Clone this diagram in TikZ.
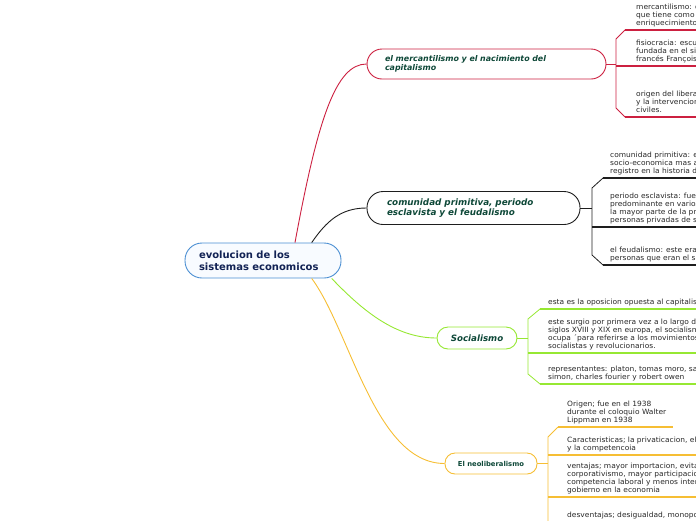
\documentclass[tikz,border=0pt]{standalone}
\usepackage{fontspec}
\setmainfont{DejaVu Sans}
\newfontfamily\leaffont[FakeStretch=1.04]{DejaVu Sans}
\definecolor{cRed}{RGB}{204,32,64}
\definecolor{cBlk}{RGB}{30,30,30}
\definecolor{cGrn}{RGB}{150,232,50}
\definecolor{cOrg}{RGB}{246,190,52}
\definecolor{cBlue}{RGB}{74,142,210}
\definecolor{rootFill}{RGB}{248,251,255}
\definecolor{txtGrn}{RGB}{14,72,56}
\definecolor{txtNavy}{RGB}{18,34,84}
\definecolor{leafTxt}{RGB}{40,40,40}
\newcommand{\leaftxt}[1]{\parbox[t]{320pt}{\raggedright\leaffont\fontsize{7.2}{8.1}\selectfont #1}}
\tikzset{
  mbox/.style={draw, line width=0.9pt, fill=white, inner ysep=0pt, align=left, text=txtGrn},
  conn/.style={line width=0.9pt},
  uline/.style={line width=1.7pt},
  brk/.style={line width=0.8pt},
  leaf/.style={anchor=base west, inner sep=0pt, text=leafTxt}
}
\begin{document}
\begin{tikzpicture}[x=1pt,y=-1pt]
\useasboundingbox (0,0) rectangle (696,520);
\clip (0,0) rectangle (696,520);

% root
\node[mbox, draw=cBlue, fill=rootFill, text=txtNavy, rounded corners=17pt,
      inner xsep=14pt, text width=128pt, minimum height=35pt,
      font=\fontsize{10}{12.3}\selectfont\bfseries] (root) at (263,260.5)
      {evolucion de los\\sistemas economicos};

% branch boxes
\node[mbox, draw=cRed, rounded corners=15pt, inner xsep=18pt, text width=203pt,
      minimum height=30pt, font=\fontsize{7.9}{9.3}\selectfont\bfseries\itshape] (b1) at (486.5,64)
      {el mercantilismo y el nacimiento del\\capitalismo};
\node[mbox, draw=cBlk, rounded corners=16pt, inner xsep=20pt, text width=173pt,
      minimum height=33pt, font=\fontsize{8.8}{10.7}\selectfont\bfseries\itshape] (b2) at (473.5,208)
      {comunidad primitiva, periodo\\esclavista y el feudalismo};
\node[mbox, draw=cGrn, rounded corners=11pt, minimum width=80pt, minimum height=22pt,
      align=center, font=\fontsize{8.7}{10}\selectfont\bfseries\itshape] (b3) at (477,338)
      {Socialismo};
\node[mbox, draw=cOrg, rounded corners=10pt, minimum width=92pt, minimum height=21pt,
      align=center, font=\fontsize{6.8}{8}\selectfont\bfseries] (b4) at (491,463.5)
      {El neoliberalismo};

% root connectors
\draw[conn, cRed] ([xshift=32pt]root.north) .. controls (318,118) and (336,64) .. (b1.west);
\draw[conn, cBlk] ([xshift=48.7pt]root.north) .. controls (326,222) and (340,208) .. (b2.west);
\draw[conn, cGrn] ([xshift=68.7pt]root.south) .. controls (362,310) and (395,338) .. (b3.west);
\draw[conn, cOrg] ([xshift=48.7pt]root.south) .. controls (350,330) and (375,463.5) .. (b4.west);

% branch 1 leaves
\coordinate (k1) at (616,64);
\draw[brk, cRed] (b1.east) -- (k1);
\draw[brk, cRed] (625,30) -- (616,39) -- (616,108) -- (625,117);
\draw[uline, cRed] (625,30) -- (700,30);
\draw[uline, cRed] (616,66) -- (700,66);
\draw[uline, cRed] (625,117) -- (700,117);
\node[leaf] (l11) at (636,9.5) {\leaftxt{mercantilismo: de\\que tiene como p\\enriquecimiento d}};
\node[leaf] (l12) at (636,45.5) {\leaftxt{fisiocracia: escue\\fundada en el sig\\francés François (}};
\node[leaf] (l13) at (636,96.5) {\leaftxt{origen del liberali\\y la intervencion\\civiles.}};

% branch 2 leaves
\coordinate (k2) at (592,208);
\draw[brk, cBlk] (b2.east) -- (k2);
\draw[brk, cBlk] (603,178) -- (592,188) -- (592,255) -- (603,265);
\draw[uline, cBlk] (603,178) -- (700,178);
\draw[uline, cBlk] (592,227) -- (700,227);
\draw[uline, cBlk] (603,265) -- (700,265);
\node[leaf] (l21) at (610,157.5) {\leaftxt{comunidad primitiva: es\\socio-economica mas an\\registro en la historia de}};
\node[leaf] (l22) at (610,198.4) {\leaftxt{periodo esclavista: fue u\\predominante en varios\\la mayor parte de la pro\\personas privadas de su}};
\node[leaf] (l23) at (610,252.6) {\leaftxt{el feudalismo: este era u\\personas que eran el sei}};

% branch 3 leaves
\coordinate (k3) at (528,338);
\draw[brk, cGrn] (b3.east) -- (k3);
\draw[brk, cGrn] (540,309) -- (528,319) -- (528,374) -- (540,384);
\draw[uline, cGrn] (540,309) -- (700,309);
\draw[uline, cGrn] (528,353) -- (700,353);
\draw[uline, cGrn] (540,384) -- (700,384);
\node[leaf] (l31) at (548,304.7) {\leaftxt{esta es la oposicion opuesta al capitalis}};
\node[leaf] (l32) at (548,324.4) {\leaftxt{este surgio por primera vez a lo largo de l\\siglos XVIII y XIX en europa, el socialismo\\ocupa ´para referirse a los movimientos\\socialistas y revolucionarios.}};
\node[leaf] (l33) at (548,371.6) {\leaftxt{representantes: platon, tomas moro, saint\\simon, charles fourier y robert owen}};

% branch 4 leaves
\coordinate (k4) at (548,463.5);
\draw[brk, cOrg] (b4.east) -- (k4);
\draw[brk, cOrg] (558,427) -- (548,437) -- (548,530);
\draw[uline, cOrg] (558,427) -- (673,427);
\draw[uline, cOrg] (548,455) -- (700,455);
\draw[uline, cOrg] (548,497) -- (700,497);
\node[leaf] (l41) at (567,406.5) {\leaftxt{Origen; fue en el 1938\\durante el coloquio Walter\\Lippman en 1938}};
\node[leaf] (l42) at (567,442.6) {\leaftxt{Caracteristicas; la privaticacion, el lib\\y la competencoia}};
\node[leaf] (l43) at (567,468.4) {\leaftxt{ventajas; mayor importacion, evita e\\corporativismo, mayor participacion\\competencia laboral y menos interve\\gobierno en la economia}};
\node[leaf] (l44) at (567,517) {\leaftxt{desventajas; desigualdad, monopolio}};
\end{tikzpicture}
\end{document}
